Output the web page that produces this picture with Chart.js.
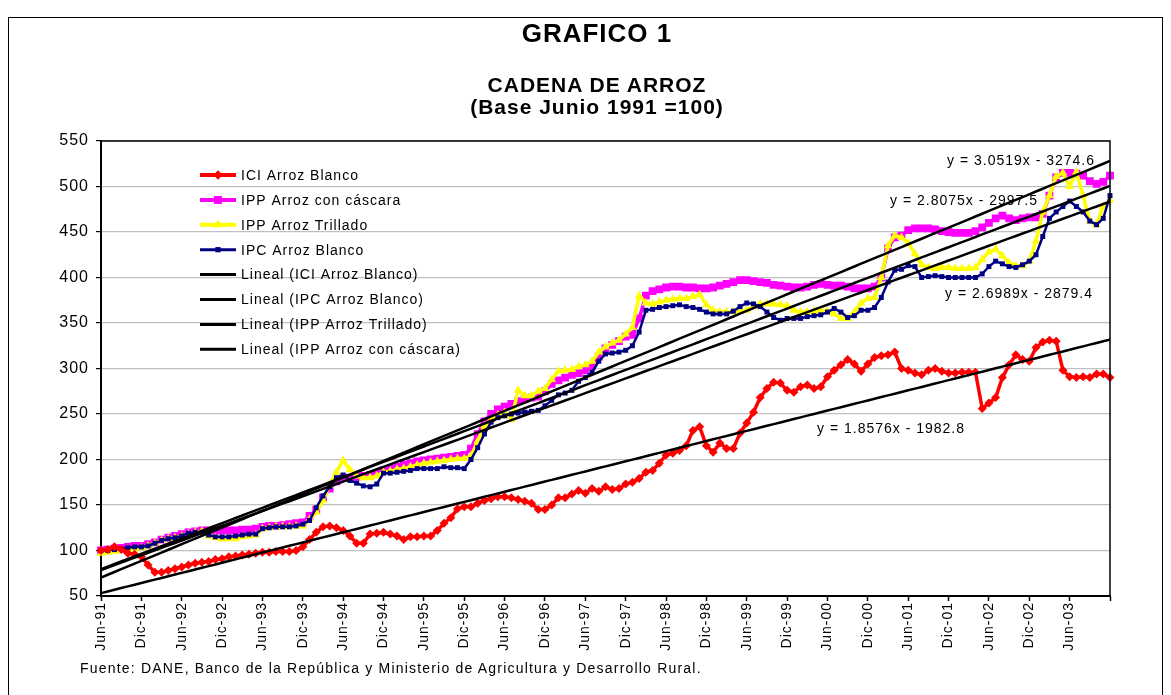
<!DOCTYPE html>
<html>
<head>
<meta charset="utf-8">
<script src="https://cdn.jsdelivr.net/npm/chart.js@4.4.1/dist/chart.umd.min.js"></script>
<style>
  body { margin: 0; background: #fff; font-family: Arial, "Liberation Sans", sans-serif; }
  #marco { position: absolute; left: 8px; top: 17px; width: 1153px; height: 700px; border: 1px solid #000; }
  #grafico { position: absolute; left: 0; top: 0; }
  .titulo { position: absolute; left: 0; width: 1194px; text-align: center; font-weight: bold; color: #000; }
  #t1 { top: 18px; font-size: 26px; line-height: 30px; letter-spacing: 1px; }
  #t2 { top: 73px; font-size: 21px; line-height: 24px; letter-spacing: 1px; }
  #t3 { top: 95px; font-size: 21px; line-height: 24px; letter-spacing: 1px; }
  #fuente { position: absolute; left: 80px; top: 660px; font-size: 14px; line-height: 16px; letter-spacing: 1.2px; color: #000; }
</style>
</head>
<body>
<div id="marco"></div>
<canvas id="grafico" width="1171" height="695"></canvas>
<div class="titulo" id="t1">GRAFICO 1</div>
<div class="titulo" id="t2">CADENA DE ARROZ</div>
<div class="titulo" id="t3">(Base Junio 1991 =100)</div>
<div id="fuente">Fuente: DANE, Banco de la República y Ministerio de Agricultura y Desarrollo Rural.</div>
<script>
// meses de Jun-91 a Dic-03
const meses = ['Ene', 'Feb', 'Mar', 'Abr', 'May', 'Jun', 'Jul', 'Ago', 'Sep', 'Oct', 'Nov', 'Dic'];
const categorias = [];
for (let i = 0; i < 151; i++) {
  const k = 5 + i;
  categorias.push(meses[k % 12] + '-' + String((91 + Math.floor(k / 12)) % 100).padStart(2, '0'));
}

const iciArrozBlanco = [
  100, 101, 104, 101, 97, 96, 93, 84, 76, 76,
  78, 80, 82, 84, 86, 87, 88, 90, 91, 93,
  94, 95, 96, 97, 98, 98, 99, 99, 99, 100,
  104, 112, 120, 126, 127, 125, 122, 116, 108, 108,
  118, 119, 120, 118, 116, 112, 115, 115, 116, 116,
  122, 130, 136, 146, 148, 148, 152, 155, 157, 159,
  159, 158, 156, 154, 152, 145, 145, 150, 158, 158,
  162, 166, 163, 168, 165, 170, 167, 168, 173, 175,
  179, 186, 188, 196, 205, 207, 210, 215, 232, 236,
  215, 208, 218, 212, 212, 229, 240, 252, 268, 278,
  285, 284, 276, 274, 280, 282, 278, 280, 291, 298,
  304, 310, 305, 297, 305, 312, 314, 315, 318, 300,
  298, 295, 293, 298, 300, 297, 295, 295, 296, 296,
  296, 256, 262, 268, 290, 304, 315, 310, 308, 323,
  329, 331, 330, 298, 291, 290, 291, 290, 294, 294,
  290
];

const ippConCascara = [
  100, 101, 102, 103, 104, 105, 105, 107, 109, 112,
  114, 116, 118, 120, 121, 122, 122, 122, 122, 122,
  122, 123, 123, 124, 126, 127, 127, 128, 129, 130,
  131, 138, 145, 158, 168, 176, 180, 180, 181, 182,
  183, 185, 188, 190, 192, 194, 196, 198, 199, 200,
  201, 202, 203, 204, 205, 212, 228, 242, 250, 255,
  258, 261, 264, 266, 268, 269, 275, 283, 287, 290,
  293, 295, 298, 303, 313, 322, 326, 330, 335, 337,
  355, 380, 385, 387, 389, 390, 390, 389, 389, 388,
  388, 389, 391, 393, 395, 397, 397, 396, 395, 394,
  392, 391, 390, 389, 389, 390, 392, 393, 392, 391,
  391, 390, 388, 388, 388, 390, 400, 432, 444, 446,
  452, 454, 454, 454, 453, 451, 450, 449, 449, 449,
  451, 455, 460, 465, 468, 465, 463, 465, 466, 466,
  470, 490, 510, 515, 515, 514, 512, 506, 503, 505,
  512
];

const ippTrillado = [
  97, 98, 99, 100, 101, 102, 103, 105, 108, 111,
  113, 114, 116, 118, 120, 121, 116, 114, 113, 113,
  113, 115, 116, 117, 124, 125, 126, 126, 126, 127,
  127, 134, 142, 155, 172, 186, 199, 189, 182, 180,
  180, 182, 186, 187, 189, 190, 192, 194, 196, 197,
  198, 199, 200, 201, 201, 204, 220, 237, 244, 249,
  252, 244, 276, 270, 270, 275, 278, 288, 297, 298,
  299, 302, 304, 308, 318, 324, 328, 331, 338, 345,
  380, 372, 371, 373, 375, 376, 377, 377, 379, 381,
  370, 364, 362, 362, 362, 363, 364, 368, 371, 371,
  371, 370, 369, 364, 362, 362, 363, 364, 363, 360,
  355, 355, 362, 372, 377, 378, 400, 435, 446, 444,
  438, 426, 414, 411, 410, 411, 411, 410, 410, 410,
  411, 420, 428, 431, 424, 416, 413, 413, 418, 440,
  472, 490, 511, 515, 500, 516, 490, 462, 458, 478,
  485
];

const ipcArrozBlanco = [
  100, 100, 101, 102, 103, 104, 104, 105, 108, 111,
  113, 114, 116, 119, 120, 120, 117, 115, 115, 115,
  116, 117, 118, 118, 124, 125, 126, 126, 126, 127,
  129, 133, 147, 160, 170, 180, 183, 177, 174, 171,
  170, 173, 185, 185, 186, 187, 188, 190, 190, 190,
  190, 192, 191, 191, 190, 200, 213, 228, 241, 246,
  248, 250, 251, 252, 253, 254, 259, 265, 271, 273,
  276, 286, 290, 296, 308, 316, 317, 318, 320, 325,
  340, 364, 365, 367, 368, 369, 370, 368, 367, 365,
  362, 360, 360, 360, 363, 368, 372, 371, 368, 362,
  356, 353, 355, 355, 355, 357, 358, 359, 362, 366,
  362, 356, 358, 364, 364, 367, 378, 395, 408, 409,
  413, 412, 400, 401, 402, 401, 400, 400, 400, 400,
  400, 404, 412, 418, 415, 412, 411, 414, 418, 425,
  445, 465, 472, 478, 484, 478, 472, 462, 458, 465,
  490
];

// lineas de tendencia de Excel (x = 1096 en Jun-91)
const tendNombres = ['Lineal (ICI Arroz Blanco)', 'Lineal (IPC Arroz Blanco)', 'Lineal (IPP Arroz Trillado)', 'Lineal (IPP Arroz con cáscara)'];
const tendPendiente = [1.8576, 2.6989, 2.8075, 3.0519];
const tendIntercepto = [-1982.8, -2879.4, -2997.5, -3274.6];
const tendXInicio = 1096;

const ejeY = [50, 550, 50];

function tendencia(k) {
  return categorias.map((c, i) => tendPendiente[k] * (tendXInicio + i) + tendIntercepto[k]);
}

function serie(label, data, color, estilo, radio, grosor, orden) {
  return {
    label: label, data: data, borderColor: color, backgroundColor: color,
    borderWidth: grosor, pointStyle: estilo, pointRadius: radio, pointBorderWidth: 0,
    pointBackgroundColor: color, tension: 0, order: orden
  };
}

const datasets = [
  serie('ICI Arroz Blanco', iciArrozBlanco, '#ff0000', 'rectRot', 4.5, 3.5, 1),
  serie('IPP Arroz con cáscara', ippConCascara, '#ff00ff', 'rect', 5.5, 3.5, 4),
  serie('IPP Arroz Trillado', ippTrillado, '#ffff00', 'triangle', 5, 3.5, 3),
  serie('IPC Arroz Blanco', ipcArrozBlanco, '#000080', 'rect', 3.5, 2.5, 2)
];
tendNombres.forEach((n, k) => {
  datasets.push(serie(n, tendencia(k), '#000000', false, 0, 2.5, 0));
});

// leyenda dentro del area del grafico
const leyenda = {
  id: 'leyenda',
  afterDraw(chart) {
    const ctx = chart.ctx;
    ctx.save();
    ctx.font = '14px Arial, "Liberation Sans"';
    ctx.letterSpacing = '1px';
    ctx.textBaseline = 'middle';
    chart.data.datasets.forEach((d, i) => {
      const y = 175 + i * 24.9;
      ctx.strokeStyle = d.borderColor;
      ctx.lineWidth = d.borderWidth + 0.5;
      ctx.beginPath();
      ctx.moveTo(200, y);
      ctx.lineTo(236, y);
      ctx.stroke();
      if (d.pointRadius > 0) {
        ctx.fillStyle = d.borderColor;
        Chart.helpers.drawPoint(ctx, { pointStyle: d.pointStyle, radius: d.pointRadius, borderWidth: 0, rotation: 0 }, 218, y);
        ctx.fill();
      }
      ctx.fillStyle = '#000';
      ctx.fillText(d.label, 241, y + 1);
    });
    ctx.restore();
  }
};

// ecuaciones de las tendencias
const ecuaciones = {
  id: 'ecuaciones',
  afterDraw(chart) {
    const ctx = chart.ctx;
    const pos = [[817, 429], [945, 294], [890, 201], [947, 161]];
    ctx.save();
    ctx.font = '14px Arial, "Liberation Sans"';
    ctx.letterSpacing = '1px';
    ctx.textBaseline = 'middle';
    ctx.fillStyle = '#000';
    tendPendiente.forEach((m, k) => {
      const txt = 'y = ' + m.toFixed(4) + 'x - ' + (-tendIntercepto[k]).toFixed(1);
      ctx.fillText(txt, pos[k][0], pos[k][1]);
    });
    ctx.restore();
  }
};

// borde del area de trazado
const bordeArea = {
  id: 'bordeArea',
  beforeDraw(chart) {
    chart.ctx.letterSpacing = '1px';
  },
  afterDraw(chart) {
    const a = chart.chartArea;
    const ctx = chart.ctx;
    ctx.save();
    ctx.strokeStyle = '#000';
    ctx.lineWidth = 1.5;
    ctx.beginPath();
    ctx.moveTo(a.left, a.top);
    ctx.lineTo(a.right, a.top);
    ctx.lineTo(a.right, a.bottom);
    ctx.stroke();
    ctx.restore();
  }
};

new Chart(document.getElementById('grafico'), {
  type: 'line',
  data: { labels: categorias, datasets: datasets },
  options: {
    responsive: false,
    animation: false,
    layout: { padding: { top: 141, right: 61, left: 0, bottom: 0 } },
    plugins: { legend: { display: false }, tooltip: { enabled: false }, title: { display: false } },
    scales: {
      x: {
        offset: false,
        grid: { drawOnChartArea: false, drawTicks: true, tickLength: 5, tickColor: '#000', tickWidth: 1.5 },
        border: { color: '#000', width: 2 },
        afterBuildTicks: s => { s.ticks = s.ticks.filter(t => t.value % 6 === 0); },
        ticks: {
          autoSkip: false, minRotation: 90, maxRotation: 90, padding: 1,
          color: '#000', font: { family: 'Arial, "Liberation Sans"', size: 14 },
          callback: function (v) { return v === categorias.length - 1 ? '' : this.getLabelForValue(v); }
        },
        afterFit: s => { s.height = 99; }
      },
      y: {
        min: ejeY[0], max: ejeY[1],
        grid: { color: '#c0c0c0', lineWidth: 1.2, tickLength: 5, tickColor: '#000' },
        border: { color: '#000', width: 2 },
        ticks: { stepSize: ejeY[2], padding: 7, color: '#000', font: { family: 'Arial, "Liberation Sans"', size: 16 } },
        afterFit: s => { s.width = 101; }
      }
    }
  },
  plugins: [bordeArea, leyenda, ecuaciones]
});
</script>
</body>
</html>
